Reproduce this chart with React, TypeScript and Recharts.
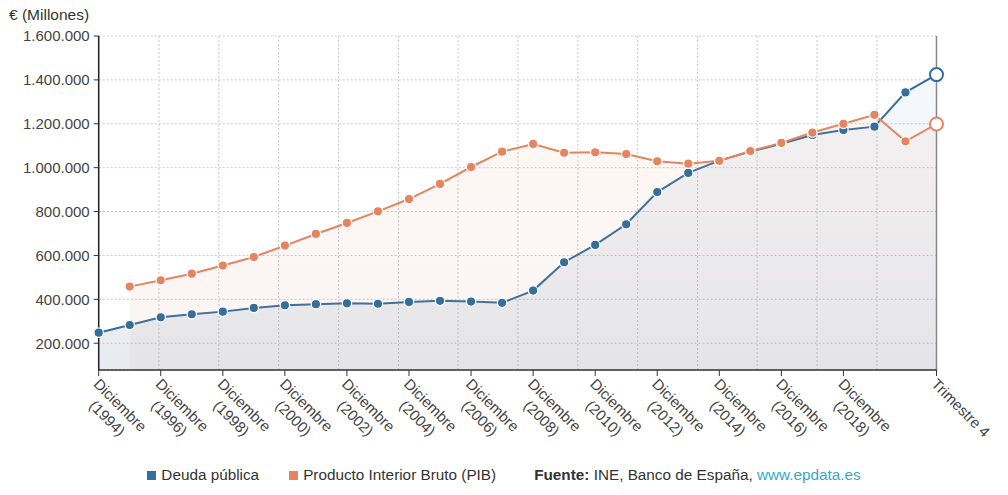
import React from "react";
import {
  ComposedChart,
  Area,
  XAxis,
  YAxis,
  CartesianGrid,
  ReferenceLine,
} from "recharts";

const categories = [
  "Diciembre (1994)", "Diciembre (1995)", "Diciembre (1996)", "Diciembre (1997)",
  "Diciembre (1998)", "Diciembre (1999)", "Diciembre (2000)", "Diciembre (2001)",
  "Diciembre (2002)", "Diciembre (2003)", "Diciembre (2004)", "Diciembre (2005)",
  "Diciembre (2006)", "Diciembre (2007)", "Diciembre (2008)", "Diciembre (2009)",
  "Diciembre (2010)", "Diciembre (2011)", "Diciembre (2012)", "Diciembre (2013)",
  "Diciembre (2014)", "Diciembre (2015)", "Diciembre (2016)", "Diciembre (2017)",
  "Diciembre (2018)", "Diciembre (2019)", "Diciembre (2020)", "Trimestre 4",
];

const deuda = [
  248000, 283000, 318000, 332000, 344000, 361000, 373000, 378000, 382000, 380000,
  388000, 393000, 390000, 384000, 440000, 569000, 648000, 742000, 889000, 976000,
  1032000, 1073000, 1109000, 1149000, 1172000, 1187000, 1343000, 1424000,
];

const pib = [
  null, 458000, 487000, 517000, 554000, 593000, 645000, 698000, 748000, 801000,
  857000, 926000, 1003000, 1073000, 1108000, 1068000, 1070000, 1062000, 1029000, 1018000,
  1031000, 1076000, 1113000, 1160000, 1200000, 1241000, 1120000, 1199000,
];

const xTicks = [0, 2, 4, 6, 8, 10, 12, 14, 16, 18, 20, 22, 24, 27];
const yTicks = [200000, 400000, 600000, 800000, 1000000, 1200000, 1400000, 1600000];
const gridTicks = [1.94, 3.87, 5.8, 7.73, 9.66, 11.58, 13.51, 15.44, 17.37, 19.3, 21.22, 23.15, 25.08];

const data = categories.map((c, i) => ({ i, label: c, deuda: deuda[i], pib: pib[i] }));

const BLUE = "#356d9b";
const ORANGE = "#e5845e";
const FONT = "'Liberation Sans', Arial, Helvetica, sans-serif";
const LAST = categories.length - 1;
const TICK_FS = 15;

const fmt = (v: number) => String(v).replace(/\B(?=(\d{3})+(?!\d))/g, ".");

const makeDot = (color: string) => (props: any) => {
  const { cx, cy, index, value } = props;
  if (cy == null || cx == null || value == null || (Array.isArray(value) && value[1] == null)) {
    return <g key={`d-${index}`} />;
  }
  if (index === LAST) {
    return <circle key={`d-${index}`} cx={cx} cy={cy} r={6.5} fill="#fff" stroke={color} strokeWidth={2} />;
  }
  return <circle key={`d-${index}`} cx={cx} cy={cy} r={4.7} fill={color} stroke="#fff" strokeWidth={1.2} />;
};

const XTick = (props: any) => {
  const { x, y, payload } = props;
  const label = categories[payload.value] || "";
  const m = label.match(/^(\S+) (\(.*\))$/);
  const tr = `translate(${x - 6},${y + 7}) rotate(45)`;
  if (!m) {
    return (
      <g transform={tr}>
        <text x={0} y={0} textAnchor="start" fill="#444" fontSize={TICK_FS} fontFamily={FONT}>
          {label}
        </text>
      </g>
    );
  }
  // centre the two lines on the width of the first (longest) line
  const half = (4.5 * TICK_FS) / 2;
  return (
    <g transform={tr}>
      <text x={half} y={0} textAnchor="middle" fill="#444" fontSize={TICK_FS} fontFamily={FONT}>
        <tspan x={half} dy={0}>{m[1]}</tspan>
        <tspan x={half} dy="1.22em">{m[2]}</tspan>
      </text>
    </g>
  );
};

export default function App() {
  return (
    <div style={{ position: "absolute", left: 0, top: 0, width: 1008, height: 495, background: "#fff", fontFamily: FONT }}>
      <div style={{ position: "absolute", left: 9, top: 6, fontSize: 15.5, color: "#333" }}>€ (Millones)</div>
      <ComposedChart
        width={1008}
        height={495}
        data={data}
        margin={{ top: 36, right: 71.5, left: 0, bottom: 0 }}
      >
        <defs>
          <linearGradient id="gDeuda" x1="0" y1="0" x2="0" y2="1">
            <stop offset="0%" stopColor="#5a9ad0" stopOpacity={0.06} />
            <stop offset="100%" stopColor="#5a7590" stopOpacity={0.14} />
          </linearGradient>
          <linearGradient id="gPib" x1="0" y1="0" x2="0" y2="1">
            <stop offset="0%" stopColor="#f29a6e" stopOpacity={0.08} />
            <stop offset="100%" stopColor="#c08a80" stopOpacity={0.08} />
          </linearGradient>
        </defs>
        <XAxis xAxisId="g" type="number" dataKey="i" domain={[0, 27]} ticks={gridTicks} hide />
        <CartesianGrid xAxisId="g" stroke="#c9c9c9" strokeDasharray="2 2" />
        <XAxis
          type="number"
          dataKey="i"
          domain={[0, 27]}
          ticks={xTicks}
          interval={0}
          height={125}
          tick={<XTick />}
          tickLine={{ stroke: "#333" }}
          tickSize={6}
          axisLine={{ stroke: "#333", strokeWidth: 1.5 }}
        />
        <YAxis
          width={98.7}
          domain={[78000, 1600000]}
          ticks={yTicks}
          interval={0}
          allowDataOverflow
          tickFormatter={fmt}
          tick={{ fill: "#444", fontSize: TICK_FS, fontFamily: FONT }}
          tickLine={{ stroke: "#333" }}
          tickSize={5}
          tickMargin={4}
          axisLine={{ stroke: "#222", strokeWidth: 1.5 }}
        />
        <ReferenceLine x={27} stroke="#888" strokeWidth={1.5} />
        <Area
          type="linear"
          dataKey="deuda"
          stroke={BLUE}
          strokeWidth={2}
          fill="url(#gDeuda)"
          fillOpacity={1}
          dot={makeDot(BLUE)}
          activeDot={false}
          isAnimationActive={false}
        />
        <Area
          type="linear"
          dataKey="pib"
          stroke={ORANGE}
          strokeWidth={2}
          fill="url(#gPib)"
          fillOpacity={1}
          dot={makeDot(ORANGE)}
          activeDot={false}
          isAnimationActive={false}
        />
      </ComposedChart>
      <div
        style={{
          position: "absolute",
          left: 0,
          width: 1008,
          top: 466,
          textAlign: "center",
          fontSize: 15.3,
          color: "#333",
          whiteSpace: "nowrap",
        }}
      >
        <span style={{ display: "inline-block", width: 9, height: 9, background: BLUE, marginRight: 5 }} />
        <span>Deuda pública</span>
        <span style={{ display: "inline-block", width: 9, height: 9, background: ORANGE, marginLeft: 30, marginRight: 5 }} />
        <span>Producto Interior Bruto (PIB)</span>
        <span style={{ marginLeft: 38 }}>
          <b>Fuente:</b> INE, Banco de España, <span style={{ color: "#3aa8c1" }}>www.epdata.es</span>
        </span>
      </div>
    </div>
  );
}
